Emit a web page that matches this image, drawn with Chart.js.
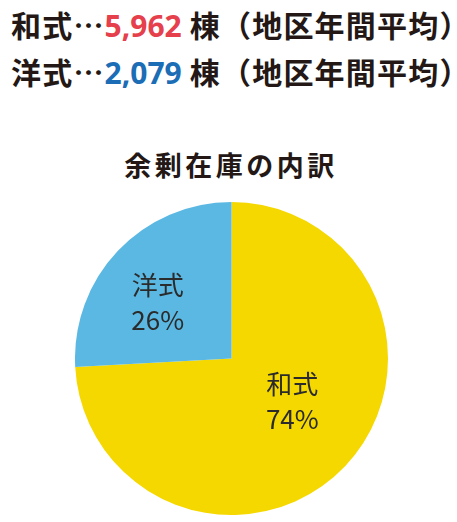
<!DOCTYPE html>
<html>
<head>
<meta charset="utf-8">
<script src="https://cdn.jsdelivr.net/npm/chart.js@4.4.1/dist/chart.umd.min.js"></script>
<style>
  html, body { margin: 0; padding: 0; background: #ffffff; }
  body { width: 457px; height: 522px; position: relative; overflow: hidden;
         font-family: "Noto Sans CJK JP", "Noto Sans", sans-serif; color: #231815; }
  .line { position: absolute; left: 11px; font-size: 30px; font-weight: bold; white-space: nowrap; letter-spacing: 1.2px; line-height: 1; }
  .num { font-family: "Open Sans", "Noto Sans", sans-serif; font-weight: bold; letter-spacing: 0; }
  #l1 { top: 9px; }
  #l2 { top: 56px; }
  #title { position: absolute; left: 0; width: 462px; text-align: center; top: 151px; font-size: 27px; font-weight: bold; letter-spacing: 3.5px; line-height: 1; }
  #box { position: absolute; left: 75px; top: 202px; width: 313px; height: 313px; }
</style>
</head>
<body>
<div class="line" id="l1"></div>
<div class="line" id="l2"></div>
<div id="title"></div>
<div id="box"><canvas id="c"></canvas></div>
<script>
// ---- data ----
const categories = ["和式", "洋式"];
const houses = [5962, 2079];            // 棟（地区年間平均）
const percentLabels = ["74%", "26%"];
const headerUnit = "棟（地区年間平均）";
const chartTitle = "余剰在庫の内訳";

// ---- styles ----
const sliceColors = ["#F5D800", "#5AB8E3"];
const numberColors = ["#E5404B", "#1B6DB5"];

function fmt(n) { return n.toLocaleString("en-US"); }
["l1", "l2"].forEach((id, i) => {
  const el = document.getElementById(id);
  el.innerHTML = "";
  const a = document.createElement("span"); a.textContent = categories[i] + "…";
  const b = document.createElement("span"); b.className = "num"; b.style.color = numberColors[i]; b.textContent = fmt(houses[i]);
  const c = document.createElement("span"); c.textContent = " " + headerUnit;
  el.appendChild(a); el.appendChild(b); el.appendChild(c);
});
document.getElementById("title").textContent = chartTitle;

const sliceLabelOffsets = [{ dx: 4, dy: -11 }, { dx: -17, dy: -3 }];

const sliceLabels = {
  id: "sliceLabels",
  afterDatasetsDraw(chart) {
    const ctx = chart.ctx;
    const meta = chart.getDatasetMeta(0);
    ctx.save();
    ctx.fillStyle = "#2b2b2b";
    ctx.textAlign = "center";
    ctx.textBaseline = "middle";
    ctx.font = "26px 'Noto Sans CJK JP', sans-serif";
    meta.data.forEach((arc, i) => {
      const p = arc.tooltipPosition();
      const o = sliceLabelOffsets[i];
      ctx.fillText(categories[i], p.x + o.dx, p.y + o.dy - 17);
      ctx.fillText(percentLabels[i], p.x + o.dx, p.y + o.dy + 18);
    });
    ctx.restore();
  }
};

new Chart(document.getElementById("c"), {
  type: "pie",
  data: {
    labels: categories,
    datasets: [{ data: houses, backgroundColor: sliceColors, borderWidth: 0 }]
  },
  options: {
    responsive: true,
    maintainAspectRatio: false,
    animation: false,
    layout: { padding: 0 },
    plugins: { legend: { display: false }, tooltip: { enabled: false }, title: { display: false } }
  },
  plugins: [sliceLabels]
});
</script>
</body>
</html>
